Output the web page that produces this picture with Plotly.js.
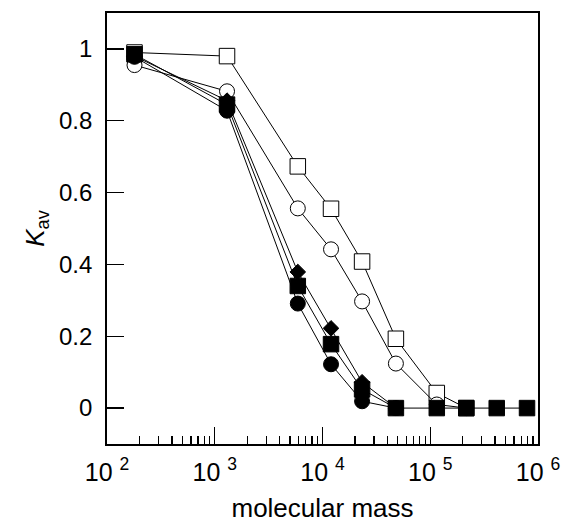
<!DOCTYPE html>
<html>
<head>
<meta charset="utf-8">
<script src="https://cdn.plot.ly/plotly-3.0.1.min.js"></script>
<style>html,body{margin:0;padding:0;background:#fff;}</style>
</head>
<body>
<div id="chart" style="width:565px;height:523px;"></div>
<script>
// molecular mass (x) positions
const mass = [180, 1300, 5900, 12000, 23300, 48000, 115000, 216000, 414000, 791000];

// Kav series
const openSquare   = [0.99, 0.98, 0.673, 0.555, 0.408, 0.193, 0.042, 0];
const openCircle   = [0.955, 0.882, 0.556, 0.442, 0.297, 0.124, 0.01, 0];
const filledDiamond = [0.98, 0.856, 0.379, 0.222, 0.072, 0];
const filledSquare = [0.985, 0.845, 0.340, 0.178, 0.052, 0, 0, 0, 0, 0];
const filledCircle = [0.978, 0.828, 0.291, 0.122, 0.019, 0];

const xTickVals = [100, 1000, 10000, 100000, 1000000];
const xTickText = ['10 <sup>2</sup>', '10 <sup>3</sup>', '10 <sup>4</sup>', '10 <sup>5</sup>', '10 <sup>6</sup>'];
const yTickVals = [0, 0.2, 0.4, 0.6, 0.8, 1];
const yTickText = ['0', '0.2', '0.4', '0.6', '0.8', '1'];

const minorVals = [];
for (let d = 100; d < 1000000; d *= 10) {
  for (let k = 2; k <= 9; k++) minorVals.push(d * k);
}

const FONT = 'Liberation Sans, Arial, Helvetica, sans-serif';

function trace(y, symbol, fill, size) {
  return {
    x: mass.slice(0, y.length),
    y: y,
    mode: 'lines+markers',
    type: 'scatter',
    line: {color: '#000', width: 1},
    marker: {
      symbol: symbol,
      size: size,
      color: fill,
      line: {color: '#000', width: 1}
    },
    showlegend: false,
    hoverinfo: 'skip'
  };
}

const data = [
  trace(openSquare, 'square', '#fff', 15.5),
  trace(openCircle, 'circle', '#fff', 15),
  trace(filledDiamond, 'diamond', '#000', 12),
  trace(filledSquare, 'square', '#000', 15.5),
  trace(filledCircle, 'circle', '#000', 15)
];

const layout = {
  width: 565,
  height: 523,
  margin: {l: 107, r: 27, t: 13, b: 79},
  paper_bgcolor: '#fff',
  plot_bgcolor: '#fff',
  font: {family: FONT, size: 22, color: '#000'},
  xaxis: {
    type: 'log',
    range: [2, 6],
    tickmode: 'array',
    tickvals: xTickVals,
    ticktext: xTickText,
    ticks: 'inside',
    ticklen: 17,
    tickwidth: 1.3,
    tickcolor: '#000',
    showline: true,
    linecolor: '#000',
    linewidth: 1.8,
    mirror: true,
    showgrid: false,
    zeroline: false,
    tickfont: {family: FONT, size: 25, color: '#000'},
    ticklabelstandoff: 5,
    minor: {
      tickmode: 'array',
      tickvals: minorVals,
      ticks: 'inside',
      ticklen: 8,
      tickwidth: 1.3,
      tickcolor: '#000',
      showgrid: false
    },
    title: {text: 'molecular mass', font: {family: FONT, size: 26, color: '#000'}, standoff: 14}
  },
  yaxis: {
    range: [-0.1, 1.1],
    tickmode: 'array',
    tickvals: yTickVals,
    ticktext: yTickText,
    ticks: 'inside',
    ticklen: 17,
    tickwidth: 1.3,
    tickcolor: '#000',
    showline: true,
    linecolor: '#000',
    linewidth: 1.8,
    mirror: true,
    showgrid: false,
    zeroline: false,
    tickfont: {family: FONT, size: 24, color: '#000'},
    ticklabelstandoff: 8,
    title: {text: '<i>K</i><sub>av</sub>', font: {family: FONT, size: 26, color: '#000'}, standoff: 7}
  }
};

Plotly.newPlot('chart', data, layout, {displayModeBar: false, staticPlot: true});
</script>
</body>
</html>
